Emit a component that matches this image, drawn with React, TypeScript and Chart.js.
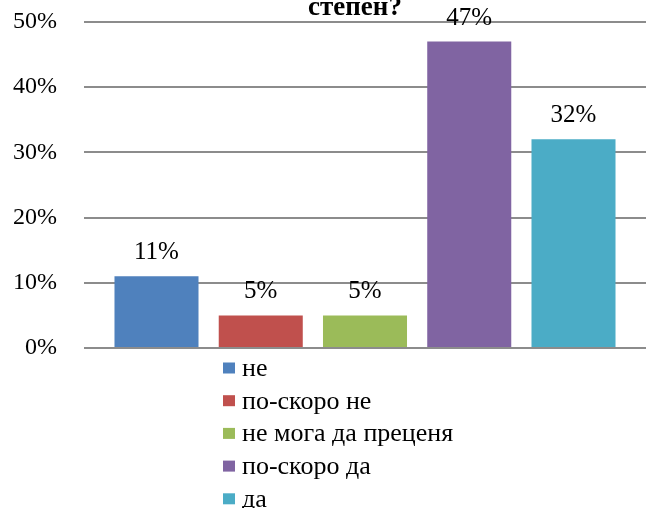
import React, { useEffect, useRef } from "react";
import { Chart, registerables } from "chart.js";

Chart.register(...registerables);

const categories = ["не", "по-скоро не", "не мога да преценя", "по-скоро да", "да"];
const values = [11, 5, 5, 47, 32];
const colors = ["#4F81BD", "#C0504D", "#9BBB59", "#8064A2", "#4BACC6"];
const yTicks = [0, 10, 20, 30, 40, 50];
const titleText = "степен?";

const FONT = "'Liberation Serif', 'Times New Roman', serif";

export default function App() {
  const ref = useRef<HTMLCanvasElement | null>(null);

  useEffect(() => {
    if (!ref.current) return;

    const titlePlugin = {
      id: "titleText",
      afterDraw(chart: any) {
        const ctx = chart.ctx;
        ctx.save();
        ctx.font = `bold 27px ${FONT}`;
        ctx.fillStyle = "#000";
        ctx.textAlign = "center";
        ctx.textBaseline = "alphabetic";
        ctx.fillText(titleText, 355, 15);
        ctx.restore();
      },
    };

    const labelsPlugin = {
      id: "valueLabels",
      afterDatasetsDraw(chart: any) {
        const ctx = chart.ctx;
        ctx.save();
        ctx.font = `25px ${FONT}`;
        ctx.fillStyle = "#000";
        ctx.textAlign = "center";
        ctx.textBaseline = "alphabetic";
        chart.data.datasets.forEach((ds: any, i: number) => {
          const meta = chart.getDatasetMeta(i);
          const el = meta.data[0];
          if (!el) return;
          ctx.fillText(`${ds.data[0]}%`, el.x, el.y - 17);
        });
        ctx.restore();
      },
    };

    const legendPlugin = {
      id: "vertLegend",
      afterDraw(chart: any) {
        const ctx = chart.ctx;
        ctx.save();
        ctx.font = `26px ${FONT}`;
        ctx.textAlign = "left";
        ctx.textBaseline = "alphabetic";
        chart.data.datasets.forEach((ds: any, i: number) => {
          const cy = 368 + 32.7 * i;
          ctx.fillStyle = ds.backgroundColor;
          ctx.fillRect(223, cy - 5.5, 12, 11);
          ctx.fillStyle = "#000";
          ctx.fillText(ds.label, 242, cy + 8);
        });
        ctx.restore();
      },
    };

    const chart = new Chart(ref.current, {
      type: "bar",
      data: {
        labels: [""],
        datasets: categories.map((c, i) => ({
          label: c,
          data: [values[i]],
          backgroundColor: colors[i],
          borderWidth: 0,
          categoryPercentage: 0.9275,
          barPercentage: 0.806,
        })),
      },
      options: {
        responsive: false,
        animation: false,
        devicePixelRatio: 1,
        layout: { padding: { top: 22, bottom: 160, left: 0, right: 0 } },
        plugins: {
          legend: { display: false },
          title: { display: false },
          tooltip: { enabled: false },
        },
        scales: {
          x: { display: false },
          y: {
            min: yTicks[0],
            max: yTicks[yTicks.length - 1],
            afterBuildTicks(scale: any) {
              scale.ticks = yTicks.map((v) => ({ value: v }));
            },
            afterFit(scale: any) {
              scale.width = 84;
              scale.paddingTop = 0;
              scale.paddingBottom = 0;
            },
            border: { display: false },
            grid: { color: "#8c8c8c", lineWidth: 2, drawTicks: false },
            ticks: {
              padding: 27,
              color: "#000",
              font: { family: FONT, size: 24 },
              callback: (v: any) => `${v}%`,
            },
          },
        },
      },
      plugins: [titlePlugin, labelsPlugin, legendPlugin],
    });

    return () => chart.destroy();
  }, []);

  return (
    <div style={{ position: "absolute", left: 0, top: 0, width: 646, height: 508, background: "#fff" }}>
      <canvas ref={ref} width={646} height={508} style={{ display: "block" }} />
    </div>
  );
}
